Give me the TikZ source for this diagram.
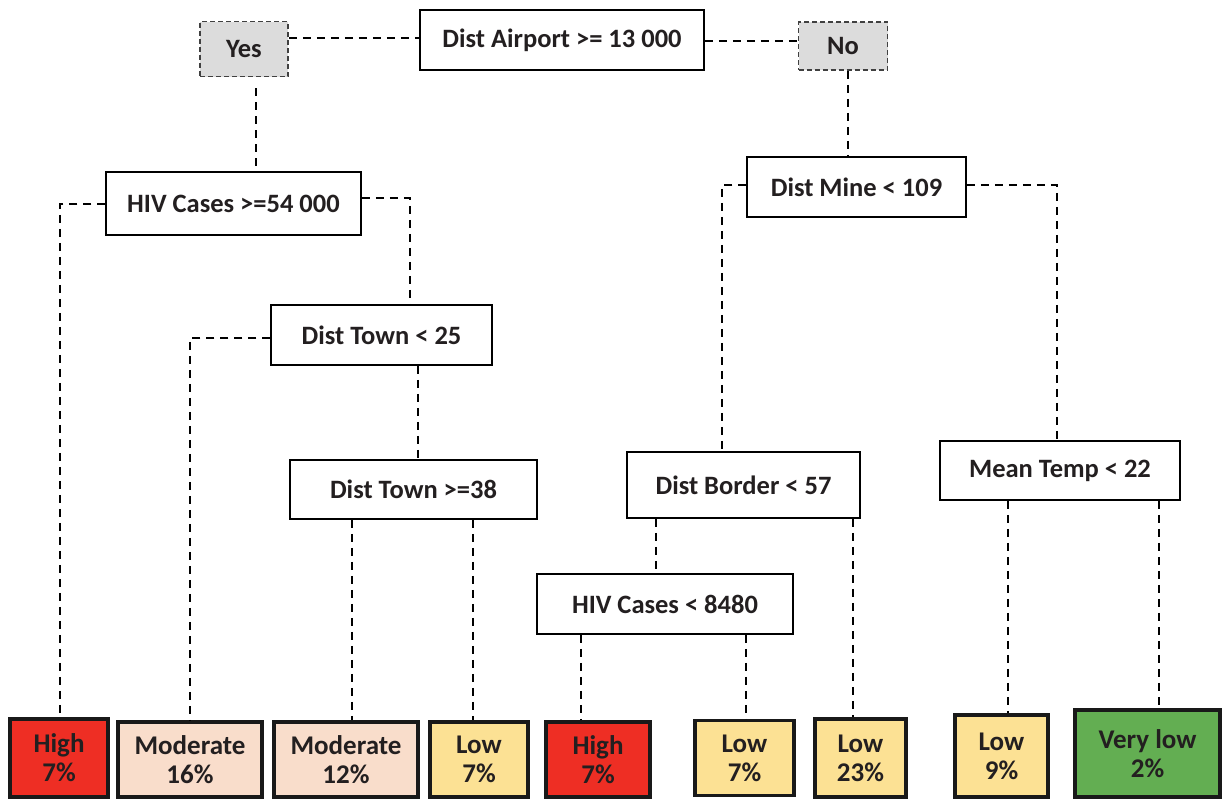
\documentclass[tikz,border=0pt]{standalone}
\usepackage{fontspec}
\setmainfont{Carlito}
\definecolor{txt}{HTML}{231F20}
\definecolor{redleaf}{HTML}{EE2E24}
\definecolor{peach}{HTML}{F9DDCB}
\definecolor{yel}{HTML}{FCE194}
\definecolor{grn}{HTML}{63AE52}
\definecolor{gryes}{HTML}{DCDCDC}
\tikzset{
  every node/.style={font=\fontsize{26.5}{29}\selectfont\bfseries, text=txt},
  split/.style={draw=black, line width=1.5pt, fill=white, inner sep=0pt},
  answer/.style={draw=black!75, line width=1.8pt, dash pattern=on 5pt off 3pt, fill=gryes, inner sep=0pt},
  leaf/.style={draw=black!90, line width=3.5pt, inner sep=0pt, align=center, font=\fontsize{27}{29}\selectfont\bfseries},
  conn/.style={draw=black, line width=1.8pt, dash pattern=on 8pt off 6pt},
}
\begin{document}
\begin{tikzpicture}[x=1pt,y=-1pt]
\useasboundingbox (0,0) rectangle (1222,801);
% split nodes
\node[split, minimum width=284, minimum height=60] (root) at (562,40) {Dist Airport >= 13 000};
\node[answer, minimum width=88, minimum height=55] (yes) at (244,49) {Yes};
\node[answer, minimum width=89, minimum height=48] (no) at (843,46) {No};
\node[split, minimum width=255, minimum height=63] (hivA) at (233.5,203.5) {HIV Cases >=54 000};
\node[split, minimum width=219, minimum height=60] (mine) at (856.5,187) {Dist Mine < 109};
\node[split, minimum width=221, minimum height=60] (dt25) at (381.5,335) {Dist Town < 25};
\node[split, minimum width=247, minimum height=59] (dt38) at (413.5,489.5) {Dist Town >=38};
\node[split, minimum width=233, minimum height=66] (border) at (743.5,485) {Dist Border < 57};
\node[split, minimum width=240, minimum height=59] (temp) at (1060,470.5) {Mean Temp < 22};
\node[split, minimum width=256, minimum height=60] (hivB) at (665,604) {HIV Cases < 8480};
% leaves
\node[leaf, fill=redleaf, minimum width=98, minimum height=78] (l1) at (59,758) {High\\7\%};
\node[leaf, fill=peach, minimum width=144, minimum height=75] (l2) at (190,759.5) {Moderate\\16\%};
\node[leaf, fill=peach, minimum width=144, minimum height=75] (l3) at (346,759.5) {Moderate\\12\%};
\node[leaf, fill=yel, minimum width=98, minimum height=75] (l4) at (479,759.5) {Low\\7\%};
\node[leaf, fill=redleaf, minimum width=104, minimum height=75] (l5) at (598,759.5) {High\\7\%};
\node[leaf, fill=yel, minimum width=99, minimum height=75] (l6) at (744.5,758) {Low\\7\%};
\node[leaf, fill=yel, minimum width=91, minimum height=78] (l7) at (860.5,758) {Low\\23\%};
\node[leaf, fill=yel, minimum width=93, minimum height=82] (l8) at (1001.5,756) {Low\\9\%};
\node[leaf, fill=grn, minimum width=145, minimum height=87] (l9) at (1147.5,753.5) {Very low\\2\%};
% connectors
\draw[conn] (yes.east |- 0,38) -- (root.west |- 0,38);
\draw[conn] (root.east |- 0,41) -- (no.west |- 0,41);
\draw[conn, shorten <=11pt] (256,0 |- yes.south) -- (256,0 |- hivA.north);
\draw[conn] (848,0 |- no.south) -- (848,0 |- mine.north);
\draw[conn] (hivA.west |- 0,204) -| (60,0 |- l1.north);
\draw[conn] (hivA.east |- 0,198) -| (410,0 |- dt25.north);
\draw[conn] (dt25.west |- 0,338) -| (190,0 |- l2.north);
\draw[conn] (418,0 |- dt25.south) -- (418,0 |- dt38.north);
\draw[conn] (352,0 |- dt38.south) -- (352,0 |- l3.north);
\draw[conn] (473,0 |- dt38.south) -- (473,0 |- l4.north);
\draw[conn] (mine.west |- 0,185) -| (722,0 |- border.north);
\draw[conn] (mine.east |- 0,185) -| (1057,0 |- temp.north);
\draw[conn] (656,0 |- border.south) -- (656,0 |- hivB.north);
\draw[conn] (853,0 |- border.south) -- (853,0 |- l7.north);
\draw[conn] (581,0 |- hivB.south) -- (581,0 |- l5.north);
\draw[conn] (746,0 |- hivB.south) -- (746,0 |- l6.north);
\draw[conn] (1008,0 |- temp.south) -- (1008,0 |- l8.north);
\draw[conn] (1159,0 |- temp.south) -- (1159,0 |- l9.north);
\end{tikzpicture}
\end{document}
